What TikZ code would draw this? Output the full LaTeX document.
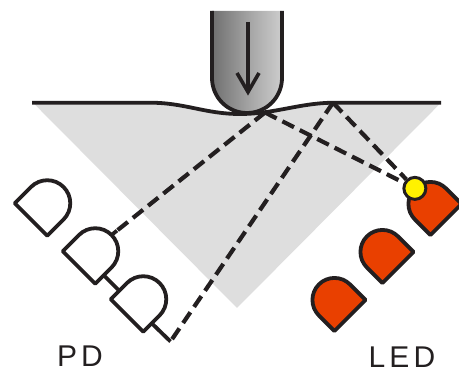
\documentclass[tikz,border=0pt]{standalone}
\usepackage{fontspec}
\newfontfamily\labelfont{Liberation Sans}[LetterSpace=14]
\usetikzlibrary{calc}
\definecolor{ink}{RGB}{35,31,32}
\definecolor{tissue}{RGB}{222,222,222}
\definecolor{ledred}{RGB}{233,64,0}
\definecolor{spot}{RGB}{255,242,0}
\pgfdeclarehorizontalshading{steel}{100bp}{color(0bp)=(black!80); color(20bp)=(black!60); color(55bp)=(black!33); color(100bp)=(black!3)}
\pgfdeclarelayer{back}
\pgfdeclarelayer{beams}
\pgfsetlayers{back,beams,main}
\tikzset{
  pics/dshape/.style={code={
    \path[pic actions] (0,-#1) -- (#1,-#1) arc[start angle=-90,end angle=90,radius=#1] -- (0,#1) -- cycle;
    \coordinate (-tip) at (2*#1,0);
    \coordinate (-sa) at (12,-#1);
    \coordinate (-sb) at (12,#1);
  }},
  outline/.style={draw=ink, line width=3.8pt, line join=round},
  detector/.style={outline, fill=white},
  emitter/.style={outline, fill=ledred},
  beam/.style={draw=ink, line width=4.2pt, dash pattern=on 13pt off 6.5pt},
  wire/.style={draw=ink, line width=3.8pt},
  caption/.style={font=\labelfont\fontsize{30}{36}\selectfont, text=ink, inner sep=0pt, anchor=base, text depth=0pt}
}
\begin{document}
\begin{tikzpicture}[x=1pt,y=1pt]
\useasboundingbox (0,0) rectangle (459,373);
\clip (0,0) rectangle (459,373);

% tissue cone under the deformed surface
\begin{pgfonlayer}{back}
\fill[tissue] (33,270.3) -- (150,270.3) .. controls (185,270.3) and (205,259) .. (240,259)
  .. controls (275,259) and (300,270.3) .. (335,270.3) -- (441,270.3) -- (237,65) -- cycle;
\draw[ink, line width=3.8pt] (32,270.3) -- (150,270.3) .. controls (185,270.3) and (205,259) .. (240,259)
  .. controls (275,259) and (300,270.3) .. (335,270.3) -- (441,270.3);
\end{pgfonlayer}

% scattering points
\coordinate (contact) at (265,260.5);
\coordinate (apex) at (333,270.3);

% photodiodes
\pic[detector, rotate=45] (pd1) at (31,153.5) {dshape=23};
\pic[detector, rotate=45] (pd2) at (79,105.5) {dshape=23};
\pic[detector, rotate=45] (pd3) at (127,57.5) {dshape=23};
\coordinate (pdend) at (170.5,31.5);
\coordinate (pdtap) at ($(pd2-tip)!7pt!(contact)$);
\draw[wire] (pd2-tip) -- (pdtap);
\draw[wire] (pd3-sa) -- (pdend);
\draw[wire] (pd2-sa) -- (pd3-sb);

% LEDs
\pic[emitter, rotate=135] (led1) at (446,153.5) {dshape=22};
\pic[emitter, rotate=135] (led2) at (398,105.5) {dshape=22};
\pic[emitter, rotate=135] (led3) at (350,57.5) {dshape=22};
\node[circle, fill=spot, draw=ink, line width=3pt, minimum size=22pt, inner sep=0pt] (src) at (led1-tip) {};

% light paths
\begin{pgfonlayer}{beams}
\draw[beam] (contact) -- (pdtap);
\draw[beam] (contact) -- (src);
\draw[beam] (apex) -- (src);
\draw[beam] (apex) -- (pdend);
\end{pgfonlayer}

% indenter with its pressing arrow
\shade[shading=steel] (212,362) -- (212,295) arc[start angle=180,end angle=360,radius=35] -- (282,362) -- cycle;
\draw[ink, line width=3.8pt] (212,362) -- (212,295) arc[start angle=180,end angle=360,radius=35] -- (282,362);
\coordinate (arrowtop) at (248,351);
\coordinate (arrowtip) at (248,281);
\draw[ink, line width=3.6pt] (arrowtop) -- (arrowtip);
\draw[ink, line width=3.6pt, line join=miter] (237,300) -- (arrowtip) -- (259,300);

% labels
\node[caption] (pdlabel) at (80,6) {PD};
\node[caption] (ledlabel) at (402,5) {LED};
\end{tikzpicture}
\end{document}
